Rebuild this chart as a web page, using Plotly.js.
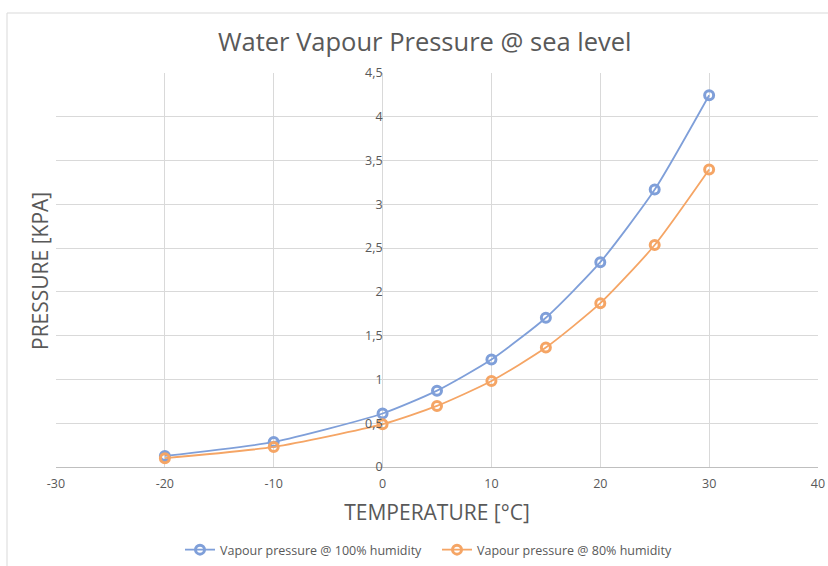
<!DOCTYPE html>
<html>
<head>
<meta charset="utf-8">
<script src="https://cdn.plot.ly/plotly-3.0.1.min.js"></script>
<style>html,body{margin:0;padding:0;background:#fff}#chart{width:828px;height:566px}</style>
</head>
<body>
<div id="chart"></div>
<script>
const temperature = [-20, -10, 0, 5, 10, 15, 20, 25, 30];
const pressure100 = [0.126, 0.286, 0.611, 0.872, 1.228, 1.705, 2.339, 3.169, 4.246];
const pressure80 = [0.101, 0.229, 0.489, 0.698, 0.982, 1.364, 1.871, 2.535, 3.397];
const seriesNames = ['Vapour pressure @ 100% humidity', 'Vapour pressure @ 80% humidity'];
const xTicks = [-30, -20, -10, 0, 10, 20, 30, 40];
const yTicks = [0, 0.5, 1, 1.5, 2, 2.5, 3, 3.5, 4, 4.5];

const blue = '#7f9fd9';
const orange = '#f5a565';
const font = '"Open Sans", "Liberation Sans", sans-serif';

function series(y, name, color) {
  return {
    x: temperature, y: y, name: name, type: 'scatter', mode: 'lines+markers',
    line: {color: color, width: 1.8, shape: 'spline', smoothing: 0.6},
    marker: {symbol: 'circle-open', size: 9, color: color, line: {width: 3, color: color}}
  };
}

const data = [series(pressure100, seriesNames[0], blue), series(pressure80, seriesNames[1], orange)];

const layout = {
  width: 828, height: 566,
  margin: {l: 56, r: 10, t: 73, b: 99},
  paper_bgcolor: '#fff', plot_bgcolor: '#fff',
  separators: ', ',
  font: {family: font, color: '#595959', size: 12},
  title: {text: 'Water Vapour Pressure @ sea level', font: {family: font, size: 25.5, color: '#595959'},
          x: 0.513, xanchor: 'center', y: 0.925, yanchor: 'middle'},
  xaxis: {
    range: [-30, 40], tickvals: xTicks, ticktext: xTicks.map(String),
    showgrid: true, gridcolor: '#d9d9d9', gridwidth: 1,
    zeroline: false, showline: true, linecolor: '#bfbfbf', linewidth: 1,
    ticks: '', tickfont: {size: 12.5, color: '#595959'}, ticklabelstandoff: 5,
    title: {text: 'TEMPERATURE [°C]', font: {size: 21, color: '#595959'}, standoff: 14},
    automargin: false, fixedrange: true
  },
  yaxis: {
    anchor: 'free', position: 30 / 70, side: 'left',
    range: [0, 4.5], tickvals: yTicks,
    showgrid: true, gridcolor: '#d9d9d9', gridwidth: 1,
    zeroline: false, showline: false, ticks: '',
    tickfont: {size: 12.5, color: '#595959'}, ticklabelstandoff: 0,
    automargin: false, fixedrange: true
  },
  annotations: [
    {text: 'PRESSURE [KPA]', xref: 'paper', yref: 'paper', x: (40 - 56) / 762, y: (467 - 271) / 394,
     xanchor: 'center', yanchor: 'middle', textangle: -90, showarrow: false,
     font: {size: 21, color: '#595959'}}
  ],
  legend: {
    orientation: 'h', xref: 'container', yref: 'container', x: 180 / 828, xanchor: 'left', y: (566 - 550) / 566, yanchor: 'middle',
    font: {size: 12.5, color: '#595959'}, itemwidth: 30, entrywidth: 212, entrywidthmode: 'pixels', tracegroupgap: 0
  },
  shapes: [
    {type: 'line', xref: 'paper', yref: 'paper', x0: (7 - 56) / 762, x1: (7 - 56) / 762, y0: (467 - 13) / 394, y1: -0.3,
     line: {color: '#d9d9d9', width: 1}},
    {type: 'line', xref: 'paper', yref: 'paper', x0: (7 - 56) / 762, x1: 1.02, y0: (467 - 13) / 394, y1: (467 - 13) / 394,
     line: {color: '#d9d9d9', width: 1}}
  ],
  showlegend: true
};

Plotly.newPlot('chart', data, layout, {displayModeBar: false, staticPlot: true});
</script>
</body>
</html>
